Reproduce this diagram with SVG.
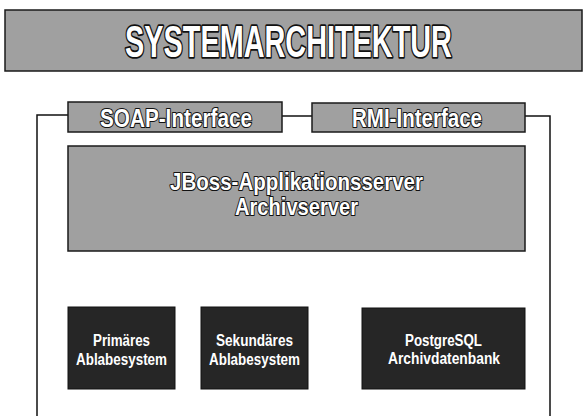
<svg xmlns="http://www.w3.org/2000/svg" width="583" height="416" viewBox="0 0 583 416">
<style>
.gray{fill:#a0a0a0;stroke:#1a1a1a;stroke-width:1.5}
.dark{fill:#262626;stroke:#111;stroke-width:1}
.conn{fill:none;stroke:#111;stroke-width:1.5}
.t{font-family:"Liberation Sans",Arial,sans-serif;font-weight:bold;text-anchor:middle}
.out{fill:#fff;stroke:#111;stroke-width:2.2;paint-order:stroke;stroke-linejoin:round}
.wt{fill:#fff}
</style>
<rect width="583" height="416" fill="#fff"/>
<g id="title">
<rect class="gray" x="5" y="10" width="577" height="61"/>
<text class="t out" transform="translate(288.5 57) scale(0.641 1)" x="0" y="0" font-size="45" style="stroke-width:3.6">SYSTEMARCHITEKTUR</text>
</g>
<g id="connectors">
<path class="conn" d="M68,115 H37 V416"/>
<path class="conn" d="M282,116 H312"/>
<path class="conn" d="M525,116 H550 V416"/>
</g>
<g id="soap">
<rect class="gray" x="68" y="102" width="214" height="30"/>
<text class="t out" x="176" y="127" font-size="25" textLength="152" lengthAdjust="spacingAndGlyphs">SOAP-Interface</text>
</g>
<g id="rmi">
<rect class="gray" x="312" y="103" width="213" height="29"/>
<text class="t out" x="417" y="127" font-size="25" textLength="130" lengthAdjust="spacingAndGlyphs">RMI-Interface</text>
</g>
<g id="jboss">
<rect class="gray" x="68" y="146" width="457" height="105"/>
<text class="t out" x="296.5" y="190" font-size="24" textLength="253" lengthAdjust="spacingAndGlyphs">JBoss-Applikationsserver</text>
<text class="t out" x="296.5" y="215" font-size="24" textLength="123" lengthAdjust="spacingAndGlyphs">Archivserver</text>
</g>
<g id="primaer">
<rect class="dark" x="68" y="307" width="107" height="82"/>
<text class="t wt" x="121.5" y="346" font-size="16" textLength="57" lengthAdjust="spacingAndGlyphs">Primäres</text>
<text class="t wt" x="121.5" y="365" font-size="16" textLength="91" lengthAdjust="spacingAndGlyphs">Ablabesystem</text>
</g>
<g id="sekundaer">
<rect class="dark" x="201" y="307" width="107" height="82"/>
<text class="t wt" x="254.5" y="346" font-size="16" textLength="77" lengthAdjust="spacingAndGlyphs">Sekundäres</text>
<text class="t wt" x="254.5" y="365" font-size="16" textLength="91" lengthAdjust="spacingAndGlyphs">Ablabesystem</text>
</g>
<g id="postgres">
<rect class="dark" x="362" y="308" width="163" height="81"/>
<text class="t wt" x="443.5" y="346" font-size="16" textLength="77" lengthAdjust="spacingAndGlyphs">PostgreSQL</text>
<text class="t wt" x="444" y="364" font-size="16" textLength="112" lengthAdjust="spacingAndGlyphs">Archivdatenbank</text>
</g>
</svg>
